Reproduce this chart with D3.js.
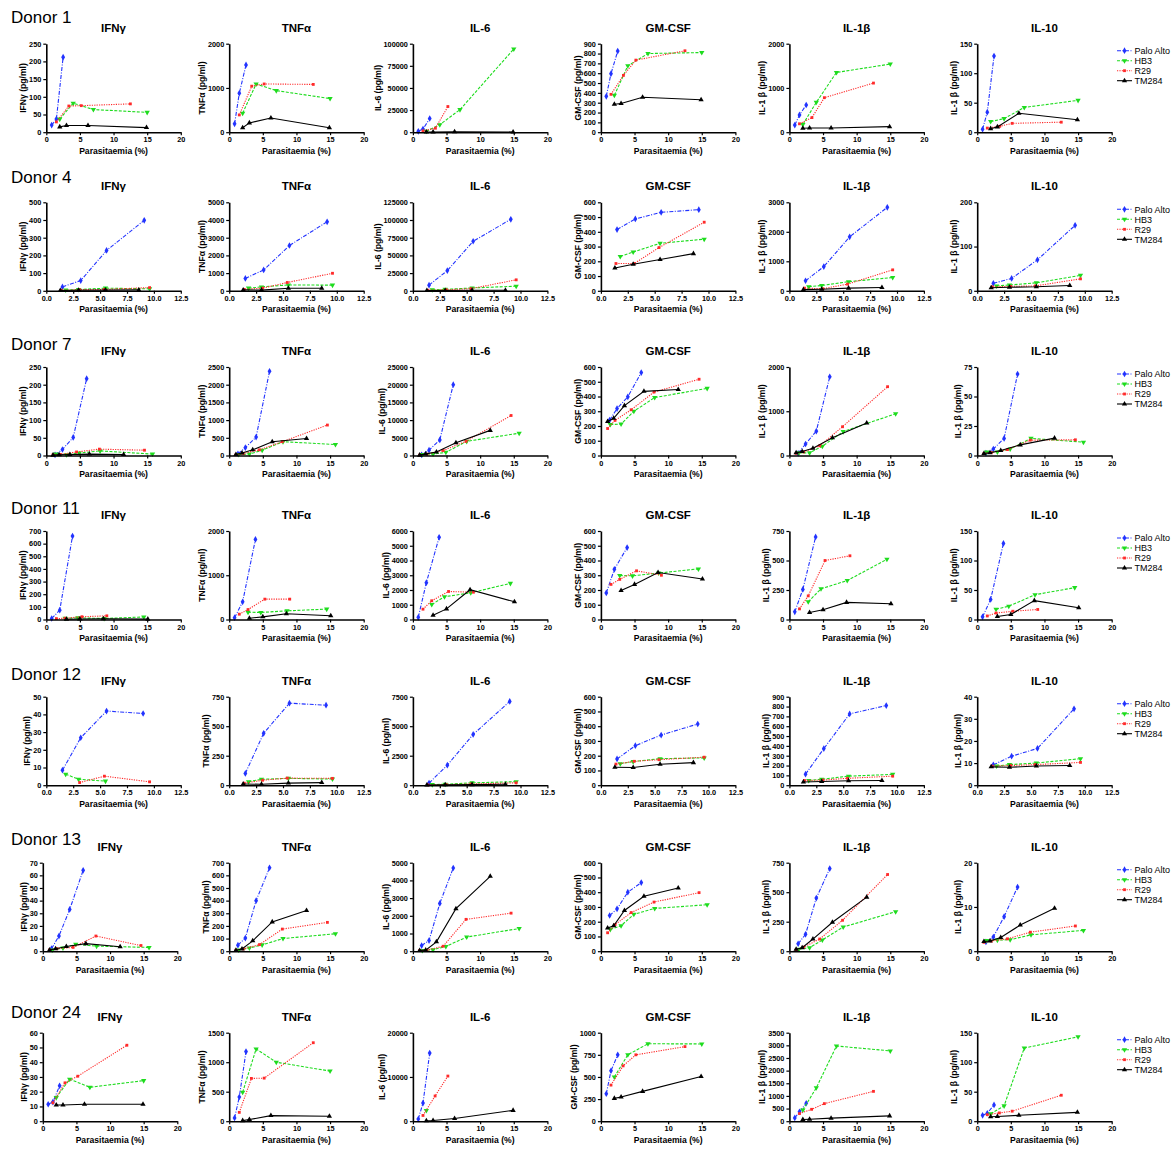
<!DOCTYPE html>
<html><head><meta charset="utf-8">
<script src="https://cdn.jsdelivr.net/npm/d3@7"></script>
<style>body{margin:0;background:#fff;} svg{display:block;font-family:"Liberation Sans",Arial,sans-serif;}</style>
</head><body><svg id="c" width="1176" height="1158"></svg>
<script>
const strains = ["Palo Alto","HB3","R29","TM284"];
const cytokines = ["IFNγ","TNFα","IL-6","GM-CSF","IL-1β","IL-10"];
const yTitles = ["IFNγ (pg/ml)","TNFα (pg/ml)","IL-6 (pg/ml)","GM-CSF (pg/ml)","IL-1 β (pg/ml)","IL-1 β (pg/ml)"];
const donorNames = ["Donor 1","Donor 4","Donor 7","Donor 11","Donor 12","Donor 13","Donor 24"];
const xTitle = "Parasitaemia (%)";
const donorXMax = [20,12.5,20,20,12.5,20,20];
const donorXStep = [5,2.5,5,5,2.5,5,5];

// Donor 1
const d1X = [[0.8,1.5,2.5],[2,4,7,15],[1.5,3.35,5.2,12.5],[2,3,6.2,14.9]];
const d1IFNg = [[20,37,212],[37,82,64,56],[29,74,75,80],[15,19,19,13]];
const d1TNFa = [[190,880,1520],[430,1090,940,760],[390,1040,1090,1080],[100,210,320,100]];
const d1IL6 = [[1000,3500,15500],[1000,8500,25500,94000],[1500,4500,29000,null],[200,300,500,300]];
const d1GMCSF = [[365,595,825],[375,675,800,810],[385,578,733,828],[285,292,355,330]];
const d1IL1b = [[160,390,615],[175,675,1350,1540],[190,330,780,1110],[90,95,95,125]];
const d1IL10 = [[5,34,129],[18,23,42,54],[7,10,15,17],[6,9,32,21]];
const d1YMax = [250,2000,100000,900,2000,150];
const d1YStep = [50,1000,25000,100,1000,50];

// Donor 4
const d4X = [[1.5,3.2,5.6,9.1],[1.8,3.0,5.5,9.6],[1.4,3.1,5.4,9.6],[1.3,3.0,5.5,8.6]];
const d4IFNg = [[22,58,228,398],[5,7,15,11],[3,6,8,18],[2,3,4,5]];
const d4TNFa = [[700,1180,2560,3900],[150,220,330,320],[80,150,470,990],[50,40,140,140]];
const d4IL6 = [[8000,28500,70000,101000],[1500,2000,4000,6500],[800,1500,3000,15500],[300,500,700,800]];
const d4GMCSF = [[415,487,532,550],[233,263,322,350],[185,185,293,465],[155,180,212,252]];
const d4IL1b = [[340,820,1830,2830],[140,180,310,450],[90,70,225,710],[40,55,90,110]];
const d4IL10 = [[17,28,70,148],[11,13,18,35],[9,10,11,27],[7,8,9,12]];
const d4YMax = [500,5000,125000,600,3000,200];
const d4YStep = [100,1000,25000,100,1000,100];

// Donor 7
const d7X = [[1.3,2.4,4.0,6.0],[1.4,3.0,4.9,8.0,15.8],[1.0,2.1,4.5,7.9,14.6],[1.0,1.9,3.5,6.4,11.5]];
const d7IFNg = [[2,17,51,217],[4,2,7,13,4],[2,3,10,18,15],[1,2,3,4,3]];
const d7TNFa = [[50,220,520,2380],[30,40,150,390,310],[20,60,160,390,860],[30,70,160,390,480]];
const d7IL6 = [[200,1500,4400,20000],[300,400,900,4000,6300],[100,400,1400,4000,11300],[100,450,1000,3600,7100]];
const d7GMCSF = [[240,318,398,562],[210,213,300,393,455],[183,238,310,430,517],[230,252,338,435,447]];
const d7IL1b = [[50,260,550,1780],[60,60,210,540,945],[50,80,220,650,1555],[60,90,165,400,735]];
const d7IL10 = [[2,5.5,14.5,69],[3,3,5.5,14.5,11.3],[1.5,2.5,5,13,13.3],[1.7,2.3,4.2,9,14.7]];
const d7YMax = [250,2500,25000,600,2000,75];
const d7YStep = [50,500,5000,100,1000,25];

// Donor 11
const d11X = [[0.8,2.0,3.9],[2.8,4.7,8.6,14.5],[1.5,2.8,5.3,9.0],[3.0,5.0,8.5,15.1]];
const d11IFNg = [[8,74,660],[10,13,8,20],[7,10,22,29],[2,4,6,3]];
const d11TNFa = [[40,400,1810],[165,160,195,235],[120,225,460,460],[30,60,130,85]];
const d11IL6 = [[150,2500,5570],[1020,1540,1810,2450],[700,1270,1900,1850],[290,720,2020,1200]];
const d11GMCSF = [[180,340,488],[298,296,315,343],[238,272,330,300],[197,238,319,275]];
const d11IL1b = [[65,255,700],[150,260,330,510],[90,200,500,540],[60,82,145,133]];
const d11IL10 = [[4.5,34,129],[17.5,22.5,42,54],[6,11,14,17],[5,8.5,32,20]];
const d11YMax = [700,2000,6000,600,750,150];
const d11YStep = [100,1000,1000,100,250,50];

// Donor 12
const d12X = [[1.5,3.2,5.6,9.0],[1.8,3.0,5.5,9.6],[1.4,3.1,5.4,9.6],[1.3,3.0,5.5,8.6]];
const d12IFNg = [[8.5,26.8,41.9,40.5],[6.2,3.4,2.3,null],[null,1.5,5.1,1.9],[null,null,null,null]];
const d12TNFa = [[100,440,695,678],[30,50,58,52],[17,42,60,58],[10,8,18,22]];
const d12IL6 = [[180,1700,4300,7100],[50,80,200,300],[30,50,100,200],[20,30,50,80]];
const d12GMCSF = [[178,268,340,415],[145,160,180,185],[143,162,173,190],[122,120,142,153]];
const d12IL1b = [[112,372,725,810],[48,60,92,110],[48,52,70,92],[33,37,46,48]];
const d12IL10 = [[9.2,13.1,16.6,34.5],[8.7,9.3,10,12],[8.6,8.9,9.3,10.3],[8.3,8.1,8.7,8.9]];
const d12YMax = [50,750,7500,600,900,40];
const d12YStep = [10,250,2500,100,100,10];

// Donor 13
const d13X = [[1.3,2.4,4.0,6.0],[1.4,3.0,4.9,8.0,15.8],[1.0,2.1,4.5,7.9,14.6],[1.0,1.9,3.5,6.4,11.5]];
const d13IFNg = [[2,12,33,64],[1,2.5,5.5,4,3],[1,2,3,12,4.5],[1,2,3.7,6,3.5]];
const d13TNFa = [[48,104,400,660],[10,25,50,100,138],[8,18,52,175,228],[8,18,82,232,322]];
const d13IL6 = [[320,600,2700,4700],[40,80,270,800,1280],[40,60,280,1800,2150],[40,60,530,2400,4230]];
const d13GMCSF = [[242,287,400,465],[148,173,250,290,315],[125,180,262,333,397],[157,172,276,372,428]];
const d13IL1b = [[63,143,450,700],[17,30,95,205,335],[11,34,103,262,650],[17,29,103,245,458]];
const d13IL10 = [[2.1,3.2,7.8,14.5],[2.4,2.5,2.6,3.7,4.7],[2.0,2.3,2.8,4.3,5.7],[2.2,2.3,3.1,5.9,9.7]];
const d13YMax = [70,700,5000,600,750,20];
const d13YStep = [10,100,1000,100,250,10];

// Donor 24
const d24X = [[0.8,1.5,2.5],[2,4,7,15],[1.5,3.3,5.2,12.5],[2,3,6.2,14.9]];
const d24IFNg = [[11.5,13,24],[16,28.5,23,27.5],[12.5,26,30.5,51.5],[11,11,11.5,11.5]];
const d24TNFa = [[55,410,1180],[490,1225,1000,850],[150,725,730,1330],[10,28,95,85]];
const d24IL6 = [[500,4100,15400],[2400,null,null,null],[1300,5700,10200,null],[100,150,600,2450]];
const d24GMCSF = [[310,570,750],[500,750,875,873],[408,625,750,843],[258,273,337,505]];
const d24IL1b = [[130,370,710],[445,1320,2975,2780],[300,470,695,1180],[65,80,120,210]];
const d24IL10 = [[10,13.5,27.5],[12.5,26,124,143],[11,14,17,44],[7.5,8,10,15]];
const d24YMax = [60,1500,20000,1000,3500,150];
const d24YStep = [10,500,10000,250,500,50];

const donorX = [d1X,d4X,d7X,d11X,d12X,d13X,d24X];
const donorVals = [
  [d1IFNg,d1TNFa,d1IL6,d1GMCSF,d1IL1b,d1IL10],
  [d4IFNg,d4TNFa,d4IL6,d4GMCSF,d4IL1b,d4IL10],
  [d7IFNg,d7TNFa,d7IL6,d7GMCSF,d7IL1b,d7IL10],
  [d11IFNg,d11TNFa,d11IL6,d11GMCSF,d11IL1b,d11IL10],
  [d12IFNg,d12TNFa,d12IL6,d12GMCSF,d12IL1b,d12IL10],
  [d13IFNg,d13TNFa,d13IL6,d13GMCSF,d13IL1b,d13IL10],
  [d24IFNg,d24TNFa,d24IL6,d24GMCSF,d24IL1b,d24IL10]
];
const donorYMax = [d1YMax,d4YMax,d7YMax,d11YMax,d12YMax,d13YMax,d24YMax];
const donorYStep = [d1YStep,d4YStep,d7YStep,d11YStep,d12YStep,d13YStep,d24YStep];

// ---- layout / style ----
const colX = [46.3, 229.2, 412.9, 600.9, 789.4, 977.2];
const rowTop = [43.7, 202.3, 367, 531, 696.7, 862.7, 1032.7];
const donorBase = [23, 183, 350, 514, 680, 845, 1018];
const W = 134.5, H = 88.5;
const colors = ["#2233ff","#1edc1e","#ff2a2a","#000000"];
const dashes = ["4,1.5,1,1.5","3,1.5","1.2,1.2",null];
const symbols = [d3.symbolDiamond, d3.symbolTriangle, d3.symbolSquare, d3.symbolTriangle];
const symSize = [13, 12, 8, 12];
const symRot = [0, 180, 0, 0];
const FONT = "'Liberation Sans', Arial, sans-serif";

const svg = d3.select("#c");

function marker(g, si, cx, cy) {
  g.append("path")
    .attr("d", d3.symbol().type(symbols[si]).size(symSize[si])())
    .attr("transform", `translate(${cx},${cy}) rotate(${symRot[si]})`)
    .attr("fill", colors[si]).attr("stroke", "none");
}

donorNames.forEach((dn, r) => {
  const top = rowTop[r];
  svg.append("text").attr("x", 11).attr("y", donorBase[r])
    .attr("font-size", 17).attr("font-family", FONT).text(dn);

  cytokines.forEach((ck, c) => {
    const left = colX[c] + (c === 0 && r >= 5 ? -3.5 : 0);
    const xMax = donorXMax[r];
    const x = d3.scaleLinear().domain([0, xMax]).range([left, left + W]);
    const yMax = donorYMax[r][c], step = donorYStep[r][c];
    const y = d3.scaleLinear().domain([0, yMax]).range([top + H, top]);
    const g = svg.append("g");

    g.append("text").attr("x", left + W / 2).attr("y", top - 12)
      .attr("text-anchor", "middle").attr("font-weight", "bold")
      .attr("font-size", 11.5).attr("font-family", FONT).text(ck);

    // series
    strains.forEach((s, si) => {
      const xs = donorX[r][si], ys = donorVals[r][c][si];
      const pts = xs.map((xv, i) => ({x: xv, y: ys[i]})).filter(p => p.y != null);
      if (!pts.length) return;
      const p = g.append("path")
        .attr("d", d3.line().x(d => x(d.x)).y(d => y(d.y))(pts))
        .attr("fill", "none").attr("stroke", colors[si]).attr("stroke-width", 1.1);
      if (dashes[si]) p.attr("stroke-dasharray", dashes[si]);
      pts.forEach(d => marker(g, si, x(d.x), y(d.y)));
    });

    // axes
    const yt = d3.range(0, yMax + step / 2, step);
    const ya = g.append("g").attr("transform", `translate(${left},0)`)
      .call(d3.axisLeft(y).tickValues(yt).tickSize(3).tickSizeOuter(0).tickPadding(2).tickFormat(d3.format("d")));
    const xt = d3.range(0, xMax + donorXStep[r] / 2, donorXStep[r]);
    const xa = g.append("g").attr("transform", `translate(0,${top + H})`)
      .call(d3.axisBottom(x).tickValues(xt).tickSize(3).tickSizeOuter(0).tickPadding(2)
        .tickFormat(xMax === 12.5 ? d3.format(".1f") : d3.format("d")));
    [ya, xa].forEach(a => {
      a.attr("font-family", FONT).attr("font-size", 7.3).attr("font-weight", "bold");
      a.select(".domain").attr("stroke", "#000").attr("stroke-width", 1.6);
      a.selectAll(".tick line").attr("stroke", "#000").attr("stroke-width", 1.2);
      a.selectAll(".tick text").attr("fill", "#000");
    });

    g.append("text").attr("x", left + W / 2).attr("y", top + H + 21.5)
      .attr("text-anchor", "middle").attr("font-weight", "bold")
      .attr("font-size", 8.6).attr("font-family", FONT).text(xTitle);

    const bb = ya.node().getBBox();
    const tx = left + bb.x - 3, ty = top + H / 2;
    g.append("text").attr("transform", `translate(${tx},${ty}) rotate(-90)`)
      .attr("text-anchor", "middle").attr("font-weight", "bold")
      .attr("font-size", 8.6).attr("font-family", FONT).text(yTitles[c]);
  });

  // legend
  const lg = svg.append("g");
  strains.forEach((s, si) => {
    const ly = top + 7 + si * 10;
    const l = lg.append("line").attr("x1", 1117).attr("x2", 1132).attr("y1", ly).attr("y2", ly)
      .attr("stroke", colors[si]).attr("stroke-width", 1.1);
    if (dashes[si]) l.attr("stroke-dasharray", dashes[si]);
    marker(lg, si, 1124.5, ly);
    lg.append("text").attr("x", 1134.5).attr("y", ly + 3.2)
      .attr("font-size", 9).attr("font-family", FONT).text(s);
  });
});
</script></body></html>
